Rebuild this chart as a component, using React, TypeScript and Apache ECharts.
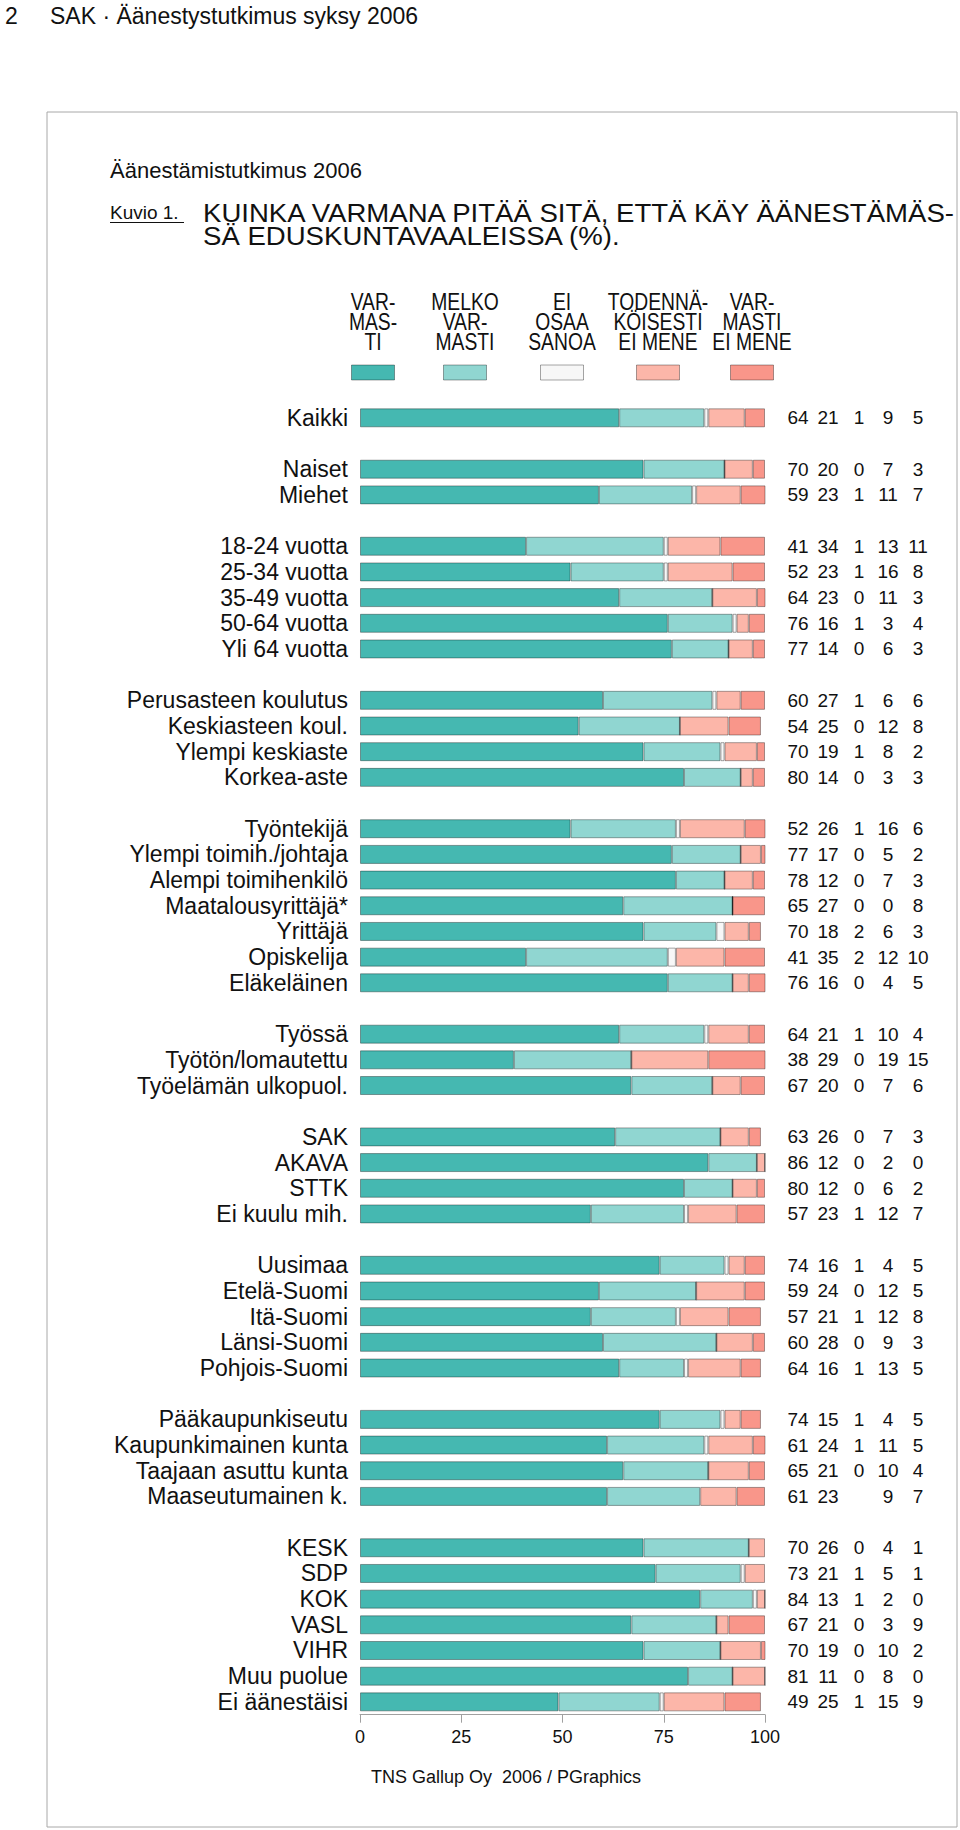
import React, { useEffect, useRef } from "react";
import * as echarts from "echarts";

// ---- data ----
const categories = [
  "Kaikki", "",
  "Naiset", "Miehet", "",
  "18-24 vuotta", "25-34 vuotta", "35-49 vuotta", "50-64 vuotta", "Yli 64 vuotta", "",
  "Perusasteen koulutus", "Keskiasteen koul.", "Ylempi keskiaste", "Korkea-aste", "",
  "Työntekijä", "Ylempi toimih./johtaja", "Alempi toimihenkilö", "Maatalousyrittäjä*", "Yrittäjä", "Opiskelija", "Eläkeläinen", "",
  "Työssä", "Työtön/lomautettu", "Työelämän ulkopuol.", "",
  "SAK", "AKAVA", "STTK", "Ei kuulu mih.", "",
  "Uusimaa", "Etelä-Suomi", "Itä-Suomi", "Länsi-Suomi", "Pohjois-Suomi", "",
  "Pääkaupunkiseutu", "Kaupunkimainen kunta", "Taajaan asuttu kunta", "Maaseutumainen k.", "",
  "KESK", "SDP", "KOK", "VASL", "VIHR", "Muu puolue", "Ei äänestäisi",
];

const varmasti = [64, null, 70, 59, null, 41, 52, 64, 76, 77, null, 60, 54, 70, 80, null, 52, 77, 78, 65, 70, 41, 76, null, 64, 38, 67, null, 63, 86, 80, 57, null, 74, 59, 57, 60, 64, null, 74, 61, 65, 61, null, 70, 73, 84, 67, 70, 81, 49];
const melkoVarmasti = [21, null, 20, 23, null, 34, 23, 23, 16, 14, null, 27, 25, 19, 14, null, 26, 17, 12, 27, 18, 35, 16, null, 21, 29, 20, null, 26, 12, 12, 23, null, 16, 24, 21, 28, 16, null, 15, 24, 21, 23, null, 26, 21, 13, 21, 19, 11, 25];
const eiOsaaSanoa = [1, null, 0, 1, null, 1, 1, 0, 1, 0, null, 1, 0, 1, 0, null, 1, 0, 0, 0, 2, 2, 0, null, 1, 0, 0, null, 0, 0, 0, 1, null, 1, 0, 1, 0, 1, null, 1, 1, 0, null, null, 0, 1, 1, 0, 0, 0, 1];
const todennakoisestiEiMene = [9, null, 7, 11, null, 13, 16, 11, 3, 6, null, 6, 12, 8, 3, null, 16, 5, 7, 0, 6, 12, 4, null, 10, 19, 7, null, 7, 2, 6, 12, null, 4, 12, 12, 9, 13, null, 4, 11, 10, 9, null, 4, 5, 2, 3, 10, 8, 15];
const varmastiEiMene = [5, null, 3, 7, null, 11, 8, 3, 4, 3, null, 6, 8, 2, 3, null, 6, 2, 3, 8, 3, 10, 5, null, 4, 15, 6, null, 3, 0, 2, 7, null, 5, 5, 8, 3, 5, null, 5, 5, 4, 7, null, 1, 1, 0, 9, 2, 0, 9];

const seriesNames = ["VARMASTI", "MELKO VARMASTI", "EI OSAA SANOA", "TODENNÄKÖISESTI EI MENE", "VARMASTI EI MENE"];
const legendLabels = ["VAR-\nMAS-\nTI", "MELKO\nVAR-\nMASTI", "EI\nOSAA\nSANOA", "TODENNÄ-\nKÖISESTI\nEI MENE", "VAR-\nMASTI\nEI MENE"];
const xTicks = [0, 25, 50, 75, 100];

const pageHeader = "SAK · Äänestystutkimus syksy 2006";
const pageNumber = "2";
const studyTitle = "Äänestämistutkimus 2006";
const figureLabel = "Kuvio 1.";
const titleLines = ["KUINKA VARMANA PITÄÄ SITÄ, ETTÄ KÄY ÄÄNESTÄMÄS-", "SÄ EDUSKUNTAVAALEISSA (%)."];
const footer = "TNS Gallup Oy  2006 / PGraphics";

// ---- styles / layout ----
const seriesValues = [varmasti, melkoVarmasti, eiOsaaSanoa, todennakoisestiEiMene, varmastiEiMene];
const colors = ["#45b8b1", "#90d6d1", "#f7f7f7", "#fcb6a9", "#f9968a"];
const FONT = "'Liberation Sans', Arial, Helvetica, sans-serif";
const legendX = [373, 465, 562, 658, 752];
const valueMargins = [33, 63, 94, 123, 153];

function txt(text: string, x: number, y: number, fontSize: number, extra: any = {}) {
  return {
    type: "text",
    x,
    y,
    ...extra,
    style: {
      text,
      fontSize,
      fontFamily: FONT,
      fill: "#111",
      align: "left",
      verticalAlign: "middle",
      textAlign: "left",
      textVerticalAlign: "middle",
      ...(extra.style || {}),
    },
  };
}

export default function App() {
  const ref = useRef<HTMLDivElement>(null);

  useEffect(() => {
    if (!ref.current) return;
    const chart = echarts.init(ref.current, null, { renderer: "svg" });

    const graphic: any[] = [
      {
        type: "rect",
        z: 0,
        shape: { x: 47, y: 112, width: 910, height: 1715 },
        style: { fill: "none", stroke: "#a8a8a8", lineWidth: 1 },
      },
      txt(pageNumber, 5, 16, 23),
      txt(pageHeader, 50, 16, 23),
      txt(studyTitle, 110, 170.5, 22),
      txt(figureLabel, 110, 212, 19),
      {
        type: "line",
        shape: { x1: 110, y1: 222.5, x2: 184, y2: 222.5 },
        style: { stroke: "#111", lineWidth: 1 },
      },
      txt(titleLines.join("\n"), 203, 224.5, 25.6, { scaleX: 1.077, style: { lineHeight: 23 } }),
      txt(footer, 371, 1777, 18),
    ];

    legendLabels.forEach((lab, i) => {
      graphic.push({
        type: "text",
        x: legendX[i],
        y: 322,
        scaleX: 0.84,
        style: {
          text: lab, fontSize: 23, lineHeight: 20, fontFamily: FONT, fill: "#111",
          align: "center", verticalAlign: "middle", textAlign: "center", textVerticalAlign: "middle",
        },
      });
      graphic.push({
        type: "rect",
        shape: { x: legendX[i] - 21.5, y: 365, width: 43, height: 15 },
        style: { fill: colors[i], stroke: "rgba(0,0,0,0.35)", lineWidth: 1 },
      });
    });

    const valueAxes = seriesValues.map((vals, i) => ({
      type: "category",
      data: categories,
      inverse: true,
      position: "right",
      offset: 0,
      axisLine: { show: false },
      axisTick: { show: false },
      splitLine: { show: false },
      axisLabel: {
        interval: 0,
        align: "center",
        margin: valueMargins[i],
        fontSize: 19,
        fontFamily: FONT,
        color: "#111",
        formatter: (_v: string, idx: number) => (vals[idx] == null ? "" : String(vals[idx])),
      },
    }));

    chart.setOption({
      animation: false,
      backgroundColor: "#ffffff",
      textStyle: { fontFamily: FONT },
      grid: {
        left: 360,
        right: 195,
        top: 405,
        bottom: 115.3,
        containLabel: false,
        outerBoundsMode: "none",
      },
      xAxis: {
        type: "value",
        min: xTicks[0],
        max: xTicks[xTicks.length - 1],
        interval: 25,
        axisLine: { show: true, lineStyle: { color: "#a0a0a0", width: 1 } },
        axisTick: { show: true, length: 8, lineStyle: { color: "#a0a0a0" } },
        splitLine: { show: false },
        axisLabel: { fontSize: 18, fontFamily: FONT, color: "#111", margin: 13 },
      },
      yAxis: [
        {
          type: "category",
          data: categories,
          inverse: true,
          axisLine: { show: false },
          axisTick: { show: false },
          splitLine: { show: false },
          axisLabel: { interval: 0, fontSize: 23, fontFamily: FONT, color: "#111", margin: 12 },
        },
        ...valueAxes,
      ],
      graphic,
      series: seriesNames.map((name, i) => ({
        type: "bar",
        name,
        stack: "total",
        yAxisIndex: 0,
        data: seriesValues[i],
        barWidth: 19,
        clip: true,
        silent: true,
        itemStyle: { color: colors[i], borderColor: "rgba(0,0,0,0.35)", borderWidth: 1 },
      })),
    });

    return () => chart.dispose();
  }, []);

  return (
    <div
      ref={ref}
      style={{ position: "absolute", left: 0, top: 0, width: 960, height: 1830, background: "#fff" }}
    />
  );
}
